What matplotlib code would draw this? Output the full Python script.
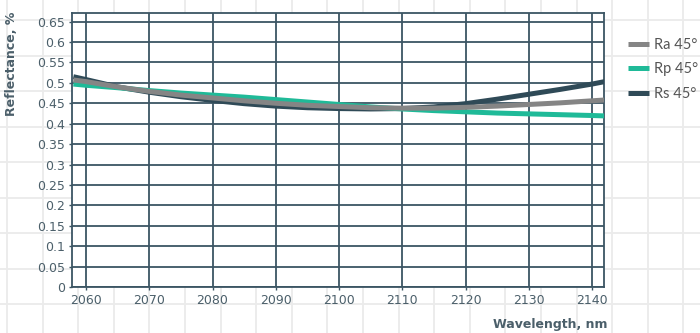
import numpy as np
import matplotlib
matplotlib.use('Agg')
import matplotlib.pyplot as plt

plt.rcParams['font.family'] = ['DejaVu Sans']

# reflectance curves, read every 5 nm
wavelength = [2058, 2060, 2065, 2070, 2075, 2080, 2085, 2090, 2095, 2100,
              2105, 2110, 2115, 2120, 2125, 2130, 2135, 2140, 2142]
rs = [0.515, 0.508, 0.490, 0.477, 0.466, 0.457, 0.449, 0.443, 0.439, 0.437,
      0.436, 0.437, 0.441, 0.449, 0.460, 0.472, 0.484, 0.497, 0.503]
ra = [0.507, 0.503, 0.490, 0.479, 0.470, 0.463, 0.456, 0.450, 0.445, 0.442,
      0.439, 0.438, 0.438, 0.440, 0.443, 0.447, 0.451, 0.456, 0.458]
rp = [0.497, 0.494, 0.488, 0.481, 0.475, 0.470, 0.465, 0.459, 0.453, 0.447,
      0.441, 0.436, 0.432, 0.429, 0.426, 0.424, 0.422, 0.420, 0.419]

x_ticks = [2060, 2070, 2080, 2090, 2100, 2110, 2120, 2130, 2140]
y_ticks = np.arange(0, 0.651, 0.05)

c_rs = "#2f4a57"
c_ra = "#858585"
c_rp = "#1fba98"
c_grid = "#3b5563"
c_text = "#4b5f6a"

fig = plt.figure(figsize=(7, 3.33), dpi=100)

# light page grid behind everything
bg = fig.add_axes([0, 0, 1, 1], zorder=-10)
bg.set_xlim(0, 700)
bg.set_ylim(333, 0)
bg.axis("off")
for gx in np.arange(7, 700, 35.6):
    bg.axvline(gx, color="#ebebeb", lw=1.3)
for gy in np.arange(20, 333, 35.5):
    bg.axhline(gy, color="#ebebeb", lw=1.3)

ax = fig.add_axes([0.103, 0.138, 0.760, 0.823])
ax.set_facecolor("white")

ax.plot(wavelength, rs, color=c_rs, lw=3.6, label="Rs 45°", solid_capstyle="butt", zorder=3)
ax.plot(wavelength, rp, color=c_rp, lw=3.6, label="Rp 45°", solid_capstyle="butt", zorder=4)
ax.plot(wavelength, ra, color=c_ra, lw=3.6, label="Ra 45°", solid_capstyle="butt", zorder=5)

ax.set_xlim(2057.8, 2141.9)
ax.set_ylim(0, 0.671)
ax.set_xticks(x_ticks)
ax.set_yticks(y_ticks)
ax.set_yticklabels(["%g" % round(v, 2) for v in y_ticks])
ax.grid(True, color=c_grid, lw=1.3)
ax.set_axisbelow(True)
for s in ax.spines.values():
    s.set_color(c_grid)
    s.set_linewidth(1.3)
ax.tick_params(colors=c_grid, labelcolor=c_text, labelsize=9, length=2, width=1.0, pad=3)

fig.text(0.016, 0.808, "Reflectance, %", rotation=90, ha="center", va="center",
         fontsize=9, fontweight="bold", color=c_text)
fig.text(0.868, 0.027, "Wavelength, nm", ha="right", va="center",
         fontsize=9, fontweight="bold", color=c_text)

handles, labels = ax.get_legend_handles_labels()
order = [2, 1, 0]
ax.legend([handles[i] for i in order], [labels[i] for i in order],
          loc="upper left", bbox_to_anchor=(0.897, 0.886), bbox_transform=fig.transFigure,
          frameon=False, handlelength=1.45, handletextpad=0.35,
          labelspacing=0.72, labelcolor="#555555", borderaxespad=0, borderpad=0,
          prop={"family": ["Lato", "DejaVu Sans"], "size": 10.5})

fig.savefig("out.png", dpi=100)
plt.close(fig)
